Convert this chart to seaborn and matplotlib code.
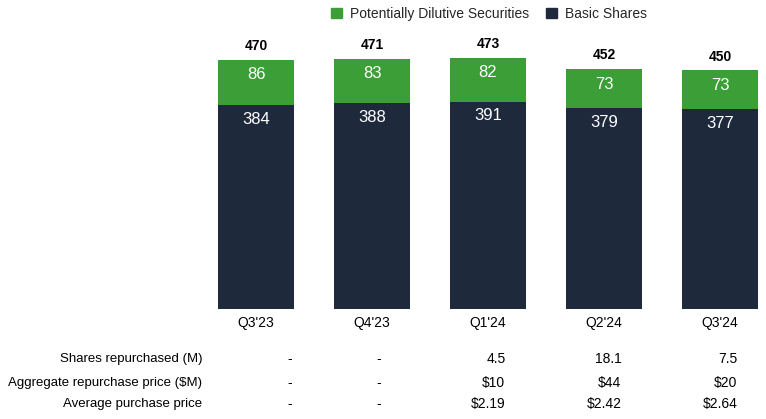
import matplotlib
matplotlib.use("Agg")
import matplotlib.pyplot as plt
import seaborn as sns
import pandas as pd
import numpy as np
from matplotlib.transforms import blended_transform_factory
from matplotlib.patches import Patch

quarters = ["Q3'23", "Q4'23", "Q1'24", "Q2'24", "Q3'24"]
basic_shares = [384, 388, 391, 379, 377]
dilutive = [86, 83, 82, 73, 73]
totals = [470, 471, 473, 452, 450]

row_labels = ["Shares repurchased (M)", "Aggregate repurchase price ($M)", "Average purchase price"]
shares_repurchased = ["-", "-", "4.5", "18.1", "7.5"]
aggregate_price = ["-", "-", "$10", "$44", "$20"]
avg_price = ["-", "-", "$2.19", "$2.42", "$2.64"]

GREEN = "#3C9E37"
NAVY = "#1F293C"

sns.set_theme(style="white")
plt.rcParams['font.family'] = ['Liberation Sans', 'DejaVu Sans']

fig = plt.figure(figsize=(7.66, 4.19), dpi=100)
W, H = 766, 419
ax = fig.add_axes([198 / W, (H - 309) / H, 566 / W, 275.6 / H])

df = pd.DataFrame({"quarter": quarters, "basic": basic_shares,
                   "dilutive": dilutive, "total": totals})

sns.barplot(data=df, x="quarter", y="total", color=GREEN, width=0.655,
            saturation=1, ax=ax, order=quarters, linewidth=0)
sns.barplot(data=df, x="quarter", y="basic", color=NAVY, width=0.655,
            saturation=1, ax=ax, order=quarters, linewidth=0)

ax.set_xlim(-0.5, -0.5 + 566 / 116)
ax.set_ylim(0, 520)
ax.set_xlabel("")
ax.set_ylabel("")
ax.set_yticks([])
for s in ax.spines.values():
    s.set_visible(False)
ax.tick_params(axis="x", length=0, pad=5, labelsize=10, colors="black")

for i, (b, d, t) in enumerate(zip(basic_shares, dilutive, totals)):
    ax.annotate(str(t), (i, t), xytext=(0, 5), textcoords="offset points",
                ha="center", va="bottom", fontsize=10, fontweight="bold", color="black")
    ax.annotate(str(d), (i, t), xytext=(0, -10.5), textcoords="offset points",
                ha="center", va="center", fontsize=12, color="white")
    ax.annotate(str(b), (i, b), xytext=(0, -10), textcoords="offset points",
                ha="center", va="center", fontsize=12, color="white")

# table below
tr = blended_transform_factory(ax.transData, fig.transFigure)
row_y = [1 - 359 / H, 1 - 383 / H, 1 - 404 / H]
rows = [shares_repurchased, aggregate_price, avg_price]
for label, y in zip(row_labels, row_y):
    fig.text(202 / W, y, label, ha="right", va="center", fontsize=9.5, color="black")
dash_offsets = [0.29, 0.06]
for vals, y in zip(rows, row_y):
    for i, v in enumerate(vals):
        if v == "-":
            ax.text(i + dash_offsets[i], y, v, transform=tr, ha="center", va="center",
                    fontsize=10, color="black")
        else:
            ax.text(i + 0.15, y, v, transform=tr, ha="right", va="center",
                    fontsize=10, color="black")

handles = [Patch(facecolor=GREEN, edgecolor=GREEN, label="Potentially Dilutive Securities"),
           Patch(facecolor=NAVY, edgecolor=NAVY, label="Basic Shares")]
fig.legend(handles=handles, loc="center", bbox_to_anchor=(489 / W, 1 - 14 / H),
           ncol=2, frameon=False, fontsize=10, handlelength=0.8, handleheight=0.8,
           handletextpad=0.6, columnspacing=1.2)

fig.savefig("out.png", dpi=100)
